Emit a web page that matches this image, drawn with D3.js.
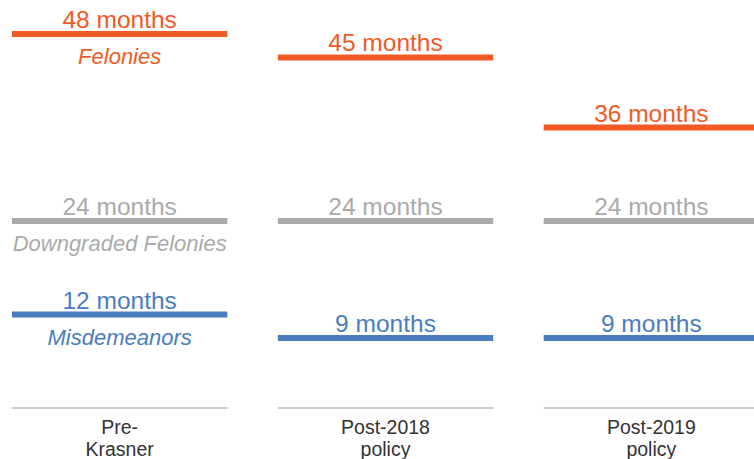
<!DOCTYPE html>
<html><head><meta charset="utf-8">
<script src="https://cdn.jsdelivr.net/npm/d3@7"></script>
<style>body{margin:0;background:#fff}svg{display:block;font-family:"Liberation Sans",Arial,sans-serif}</style>
</head><body><svg id="c" width="754" height="459"></svg>
<script>
const categories = [["Pre-","Krasner"],["Post-2018","policy"],["Post-2019","policy"]];
const categoryKeys = ["pre","p2018","p2019"];
const seriesNames = ["Felonies","Downgraded Felonies","Misdemeanors"];
const felonies = [48,45,36];
const downgraded = [24,24,24];
const misdemeanors = [12,9,9];
const colors = ["#F15A24","#AAAAAA","#4A7DC0"];

const svg = d3.select("#c");
const x = d3.scaleBand().domain(categoryKeys).range([12,759]).paddingInner(0.19).paddingOuter(0);
const y = d3.scaleLinear().domain([0,48]).range([408,34]);

const series = [felonies, downgraded, misdemeanors];

svg.selectAll("line.base").data(categoryKeys).enter().append("line")
  .attr("x1", d=>x(d)).attr("x2", d=>x(d)+x.bandwidth())
  .attr("y1", y(0)).attr("y2", y(0))
  .attr("stroke","#bbbbbb").attr("stroke-width",1.5);

categoryKeys.forEach((k,i)=>{
  const t = svg.append("text").attr("x", x(k)+x.bandwidth()/2).attr("y", 434)
    .attr("text-anchor","middle").attr("fill","#333").attr("font-size",19.5);
  categories[i].forEach((line,j)=>t.append("tspan").attr("x", x(k)+x.bandwidth()/2).attr("dy", j?22:0).text(line));
});

series.forEach((vals,si)=>{
  const g = svg.append("g");
  g.selectAll("line").data(vals).enter().append("line")
    .attr("x1",(d,i)=>x(categoryKeys[i])).attr("x2",(d,i)=>x(categoryKeys[i])+x.bandwidth())
    .attr("y1",d=>y(d)).attr("y2",d=>y(d))
    .attr("stroke",colors[si]).attr("stroke-width",6).attr("stroke-linecap","butt");
  g.selectAll("text").data(vals).enter().append("text")
    .attr("x",(d,i)=>x(categoryKeys[i])+x.bandwidth()/2).attr("y",d=>y(d)-6)
    .attr("text-anchor","middle").attr("fill",colors[si]).attr("font-size",24.5)
    .text(d=>d+" months");
  g.append("text").attr("x", x(categoryKeys[0])+x.bandwidth()/2).attr("y", y(vals[0])+30)
    .attr("text-anchor","middle").attr("fill",colors[si]).attr("font-size",22)
    .attr("font-style","italic").text(seriesNames[si]);
});
</script></body></html>
